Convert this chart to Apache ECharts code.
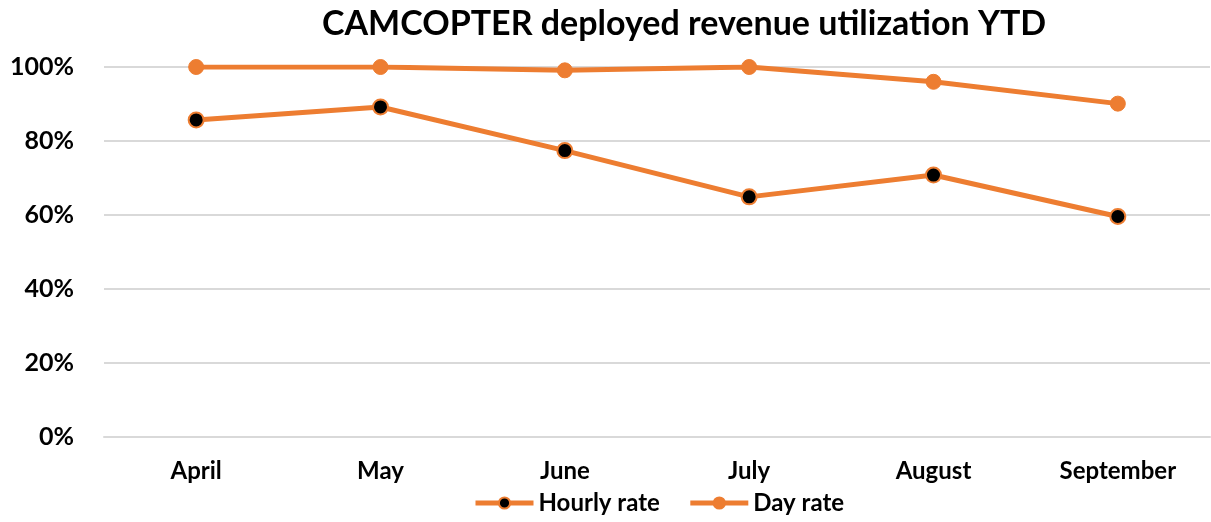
<!DOCTYPE html>
<html>
<head>
<meta charset="UTF-8">
<title>CAMCOPTER utilization</title>
<script src="https://cdn.jsdelivr.net/npm/echarts@6/dist/echarts.min.js"></script>
<style>
	html, body { margin: 0; padding: 0; background: #fff; }
	#chart { width: 1211px; height: 522px; }
</style>
</head>
<body>
<div id="chart"></div>
<script>
// data
var months = ['April', 'May', 'June', 'July', 'August', 'September'];
var hourlyRate = [85.7, 89.2, 77.4, 64.9, 70.8, 59.6];
var dayRate = [100, 100, 99.1, 100, 96, 90.1];

var orange = '#ED7D31';
var font = 'Lato, "Open Sans", sans-serif';

var myChart = echarts.init(document.getElementById('chart'));
myChart.setOption({
	animation: false,
	title: {
		text: 'CAMCOPTER deployed revenue utilization YTD',
		left: 317,
		top: 2,
		textStyle: { fontFamily: font, fontWeight: 'bold', fontSize: 34, color: '#000' }
	},
	legend: {
		bottom: 2,
		left: 468,
		itemWidth: 58,
		itemHeight: 14,
		itemGap: 28,
		lineStyle: { width: 5 },
		textStyle: { fontFamily: font, fontWeight: 'bold', fontSize: 24, color: '#000' },
		data: ['Hourly rate', 'Day rate']
	},
	grid: { left: 104, right: 1, top: 67, bottom: 85 },
	xAxis: {
		type: 'category',
		data: months,
		axisLine: { lineStyle: { color: '#d9d9d9', width: 2 } },
		axisTick: { show: false },
		axisLabel: { margin: 22, fontFamily: font, fontWeight: 'bold', fontSize: 24, color: '#000' }
	},
	yAxis: {
		type: 'value',
		min: 0,
		max: 100,
		interval: 20,
		axisLine: { show: false },
		axisTick: { show: false },
		splitLine: { lineStyle: { color: '#d9d9d9', width: 2 } },
		axisLabel: {
			margin: 30,
			formatter: '{value}%',
			fontFamily: font, fontWeight: 'bold', fontSize: 25, color: '#000'
		}
	},
	series: [
		{
			name: 'Hourly rate',
			type: 'line',
			data: hourlyRate,
			symbol: 'circle',
			symbolSize: 15,
			lineStyle: { color: orange, width: 5 },
			itemStyle: { color: '#000', borderColor: orange, borderWidth: 2 }
		},
		{
			name: 'Day rate',
			type: 'line',
			data: dayRate,
			symbol: 'circle',
			symbolSize: 15,
			lineStyle: { color: orange, width: 5 },
			itemStyle: { color: orange, borderColor: orange, borderWidth: 1 }
		}
	]
});
</script>
</body>
</html>
